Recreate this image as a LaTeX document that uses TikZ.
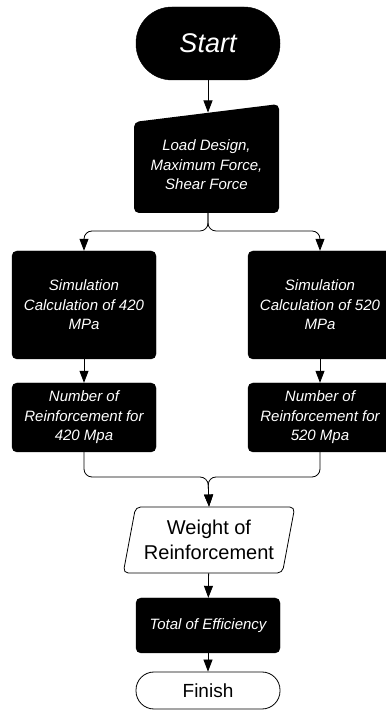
\documentclass[tikz,border=0pt]{standalone}
\usepackage{fontspec}
\setmainfont{Liberation Sans}
\usetikzlibrary{arrows.meta,shapes.geometric}

\begin{document}
\begin{tikzpicture}[x=1pt,y=1pt,
    blk/.style={draw=black,fill=black,text=white,rounded corners=5pt,minimum width=144pt,
      align=center,inner sep=2pt,font=\fontsize{15}{19.5}\selectfont\itshape},
    wht/.style={draw=black,fill=white,line width=0.8pt,align=center},
    arr/.style={-{Triangle[length=12pt,width=9pt]},line width=0.8pt}]
  \useasboundingbox (0,0) rectangle (385,711);
  \node[blk,rounded corners=36pt,minimum height=73pt,font=\fontsize{27}{30}\selectfont\itshape] (start) at (208,667.5) {Start};
  % manual input box
  \fill[rounded corners=5pt] (134,498) -- (134,589) -- (279,607) -- (279,498) -- cycle;
  \node[text=white,align=center,font=\fontsize{15}{19.5}\selectfont\itshape] (load) at (206.5,546) {Load Design,\\Maximum Force,\\Shear Force};
  \coordinate (loadtop) at (208,598.5);
  \coordinate (loadbot) at (208,498);
  \coordinate (split) at (208,480);
  \node[blk,minimum height=108pt] (sim1) at (84,406) {Simulation\\Calculation of 420\\MPa};
  \node[blk,minimum height=108pt] (sim2) at (320,406) {Simulation\\Calculation of 520\\MPa};
  \node[blk,minimum height=69pt] (num1) at (84,293.5) {Number of\\Reinforcement for\\420 Mpa};
  \node[blk,minimum height=69pt] (num2) at (320,293.5) {Number of\\Reinforcement for\\520 Mpa};
  \coordinate (merge) at (208,234);
  \node[wht,trapezium,trapezium left angle=76,trapezium right angle=104,trapezium stretches=true,
    minimum width=172pt,minimum height=66pt,rounded corners=5pt,font=\fontsize{20}{25}\selectfont] (weight) at (209,171) {Weight of\\Reinforcement};
  \node[blk,minimum height=55pt] (total) at (208,85.5) {Total of Efficiency};
  \node[wht,rounded corners=18pt,minimum width=144pt,minimum height=37pt,font=\fontsize{19}{22}\selectfont] (finish) at (208,20.5) {Finish};

  \draw[arr] (start) -- (loadtop);
  \draw[arr,rounded corners=8pt] (loadbot) -- (split) -| (sim1.north);
  \draw[arr,rounded corners=8pt] (loadbot) -- (split) -| (sim2.north);
  \draw[arr] (sim1) -- (num1);
  \draw[arr] (sim2) -- (num2);
  \draw[arr,rounded corners=8pt] (num1.south) |- (merge) -- (weight.north);
  \draw[arr,rounded corners=8pt] (num2.south) |- (merge) -- (weight.north);
  \draw[arr] (weight) -- (total);
  \draw[arr] (total) -- (finish);
\end{tikzpicture}
\end{document}
